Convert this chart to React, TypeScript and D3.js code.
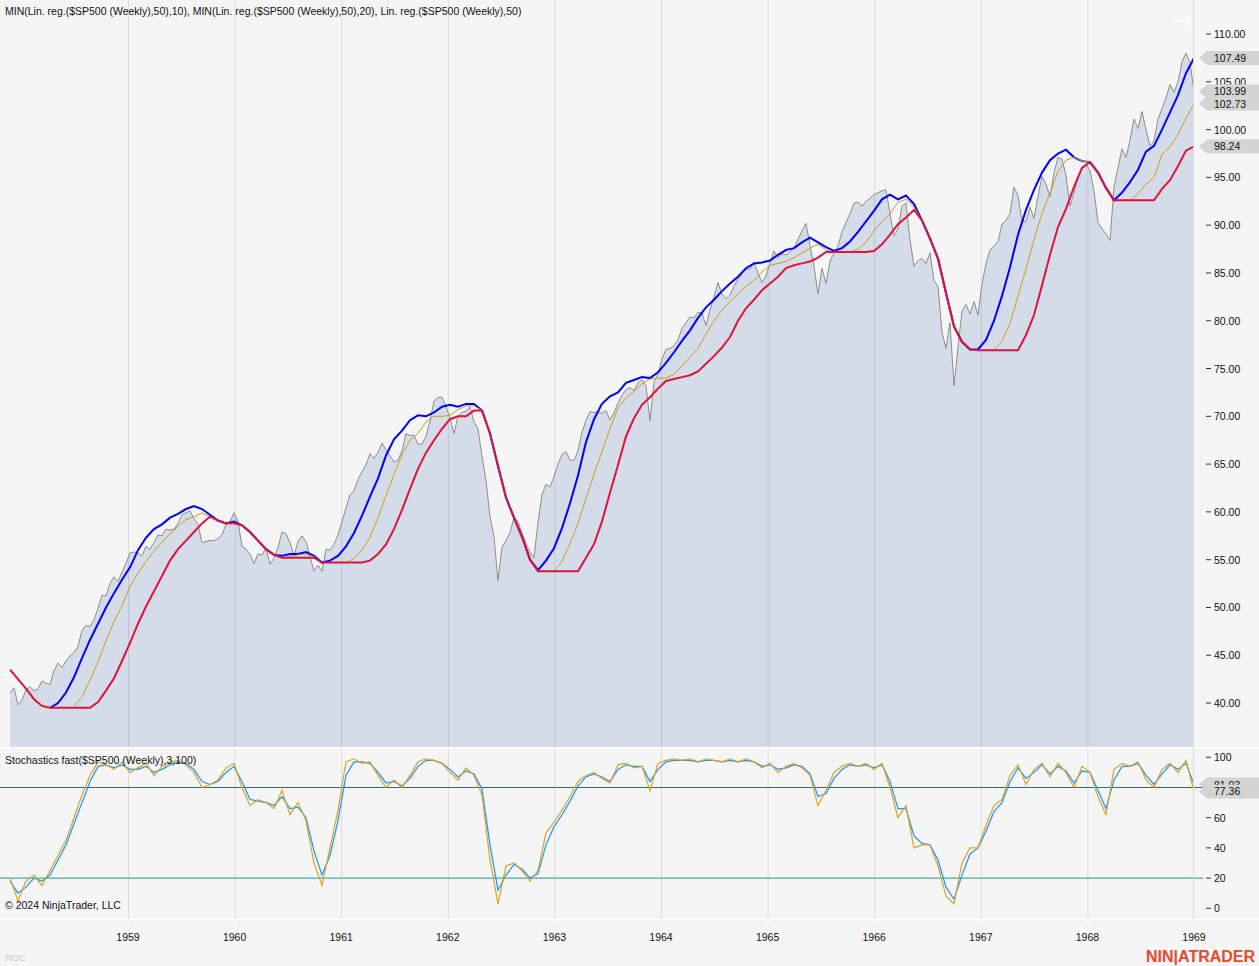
import React from 'react';
import * as d3 from 'd3';

// ---------- data ----------
// Weekly $SP500 samples, evenly spaced from late Nov 1957 to the end of 1968.
const SERIES_START = 1957.893;
const SERIES_END = 1969.0;

const years = [1959, 1960, 1961, 1962, 1963, 1964, 1965, 1966, 1967, 1968, 1969];
const priceTicks = [40, 45, 50, 55, 60, 65, 70, 75, 80, 85, 90, 95, 100, 105, 110];
const stochTicks = [0, 20, 40, 60, 80, 100];
const stochLevels = [80, 20];

const price = [
  41.0,41.6,39.8,40.3,41.4,41.7,41.3,41.5,42.3,42.1,41.9,43.4,44.2,43.7,44.4,44.9,45.3,45.9,47.6,48.1,48.0,48.7,49.9,51.3,51.2,
  52.5,53.2,52.7,53.7,54.6,55.7,55.8,55.7,55.4,56.4,56.1,56.8,57.6,57.5,58.2,58.1,58.2,58.8,59.7,59.9,60.1,59.3,58.7,56.8,56.9,
  57.0,57.0,57.2,57.6,58.7,59.0,59.9,59.0,56.4,56.1,55.6,54.6,55.6,55.5,56.2,54.5,55.2,56.3,57.9,57.7,56.8,55.4,56.9,57.5,56.9,
  55.3,53.8,54.4,53.8,56.1,56.0,56.6,57.6,59.0,60.4,61.8,62.2,63.4,64.2,64.9,66.1,65.6,66.2,67.2,66.5,65.9,65.2,65.4,66.4,68.2,
  68.0,68.0,67.1,67.1,67.9,69.5,71.6,72.0,72.0,71.0,69.9,68.2,70.0,70.4,70.5,71.0,69.4,68.7,65.8,63.3,59.5,57.4,52.8,56.3,57.0,
  57.8,59.4,59.0,57.8,56.7,55.8,55.2,58.9,61.8,62.9,62.6,63.7,65.0,66.0,66.3,65.4,65.4,66.4,68.3,69.6,70.5,70.4,70.5,70.3,70.6,
  69.6,70.4,71.4,72.2,72.8,73.0,72.7,73.5,73.8,73.2,69.5,73.6,74.4,76.0,77.0,77.1,77.4,78.0,79.2,79.8,80.4,80.3,80.9,80.8,79.5,
  81.1,82.5,84.0,82.8,82.3,82.7,83.6,84.4,84.9,85.4,85.4,86.1,85.0,84.0,84.7,86.0,87.3,86.6,87.0,86.9,87.2,87.6,88.5,89.4,90.2,
  87.9,85.7,82.8,85.5,83.9,86.2,87.1,87.8,89.3,90.3,91.2,92.3,92.4,92.0,92.5,92.8,93.2,93.4,93.6,93.7,91.2,88.9,89.6,92.0,92.3,
  88.5,85.7,86.3,86.5,86.0,87.1,84.2,83.6,78.8,77.1,79.8,73.2,77.2,81.0,81.7,80.7,82.0,80.6,83.8,86.0,87.4,87.8,88.3,90.1,90.5,
  91.2,94.0,93.1,90.4,90.4,91.9,90.7,93.0,95.1,94.3,93.0,95.5,97.1,96.9,95.2,92.0,93.4,95.0,95.9,96.4,95.7,93.6,90.3,89.6,89.1,
  88.4,94.0,96.0,98.0,97.1,98.9,101.1,100.1,101.9,100.0,98.3,98.8,101.1,102.2,103.3,104.7,103.9,105.0,107.1,108.0,107.0,103.99,
];

// MIN(Lin. reg.(50),10) – blue
const minLinReg10: (number | null)[] = [
  null,null,null,null,null,39.5,40.0,41.1,42.7,44.7,46.6,48.3,50.0,51.5,52.9,54.2,56.0,57.3,58.2,58.7,59.4,59.8,60.3,60.6,60.3,
  59.7,59.1,58.8,59.0,58.6,57.9,57.0,56.1,55.5,55.4,55.6,55.6,55.8,55.4,54.7,54.9,55.4,56.4,57.8,59.6,61.6,63.5,65.9,67.6,68.5,
  69.6,70.1,70.0,70.4,71.0,71.2,71.0,71.3,71.3,70.6,68.2,64.8,61.5,59.4,57.4,55.0,53.9,54.9,56.2,58.3,60.9,63.8,67.3,69.7,71.3,
  72.1,72.5,73.5,73.8,74.1,74.0,74.6,75.6,76.7,77.9,79.0,80.3,81.4,82.2,83.1,83.9,84.6,85.5,86.0,86.1,86.3,86.9,87.4,87.6,88.2,
  88.7,88.2,87.7,87.3,87.6,88.3,89.3,90.4,91.5,92.7,93.2,92.7,93.1,92.2,90.5,88.6,86.5,82.9,79.4,77.8,77.0,77.0,78.0,80.0,82.6,
  85.6,89.0,91.6,93.7,95.5,96.8,97.5,97.9,97.1,96.7,96.6,95.5,93.9,92.6,93.4,94.5,95.8,97.7,98.3,100.0,101.8,103.6,105.9,107.49,
];

// MIN(Lin. reg.(50),20) – gold
const minLinReg20: (number | null)[] = [
  null,null,null,null,null,null,null,null,39.7,40.6,42.4,44.3,46.5,48.5,50.2,52.2,53.6,54.8,55.9,56.8,57.7,58.5,59.2,59.5,59.9,
  59.5,59.1,58.8,58.8,58.6,57.9,57.0,56.1,55.5,55.2,55.3,55.5,55.6,55.3,54.7,54.7,54.7,54.7,55.1,56.0,57.3,59.4,61.7,63.9,66.0,
  67.5,68.2,69.4,70.0,70.0,70.1,70.7,71.1,71.1,70.6,68.2,64.8,61.5,59.4,57.4,55.0,53.8,53.8,53.8,54.8,56.7,58.8,61.4,63.9,66.3,
  68.7,70.9,71.9,72.6,73.4,73.9,74.0,74.0,74.4,75.3,76.2,77.1,78.6,80.0,81.1,82.0,82.8,83.6,84.2,85.1,85.8,86.0,86.2,86.6,87.1,
  87.6,88.0,87.4,87.2,87.2,87.2,87.5,88.2,89.4,90.4,91.2,92.4,92.7,91.9,90.5,88.6,86.5,82.9,79.4,77.8,77.0,76.9,76.9,76.9,77.9,
  79.7,82.6,85.4,88.5,91.2,93.4,95.6,96.8,97.1,96.7,96.6,95.5,93.9,92.6,92.6,92.6,93.3,94.3,95.0,97.4,98.2,99.5,101.2,102.73,
];

// Lin. reg.(50) – red
const linReg50 = [
  43.5,42.5,41.5,40.4,39.7,39.5,39.5,39.5,39.5,39.5,39.5,40.1,41.3,42.6,44.4,46.3,48.3,50.1,51.7,53.3,54.9,56.1,57.0,57.9,58.8,
  59.5,59.1,58.8,58.8,58.6,57.9,57.0,56.1,55.5,55.2,55.2,55.2,55.2,55.2,54.7,54.7,54.7,54.7,54.7,54.7,54.9,55.6,56.6,58.2,60.2,
  62.4,64.5,66.2,67.5,68.7,69.7,70.0,70.0,70.6,70.6,68.2,64.8,61.5,59.4,57.4,55.0,53.8,53.8,53.8,53.8,53.8,53.8,55.2,56.6,59.0,
  62.0,64.9,67.9,69.8,71.2,72.0,72.9,73.7,73.9,74.1,74.3,74.7,75.5,76.3,77.2,78.3,80.0,81.3,82.2,83.2,83.9,84.6,85.5,85.8,86.0,
  86.2,86.6,87.2,87.2,87.2,87.2,87.2,87.2,87.3,88.0,89.0,90.1,90.8,91.6,90.5,88.6,86.5,82.9,79.4,77.8,77.0,76.9,76.9,76.9,76.9,
  76.9,76.9,78.5,80.6,83.7,86.9,89.8,91.7,94.0,96.0,96.6,95.5,93.9,92.6,92.6,92.6,92.6,92.6,92.6,93.8,94.7,96.2,97.8,98.24,
];

// Stochastics fast(3,100): K (goldenrod) and D (dodger blue)
const stochK = [
  20,5,18,22,15,25,35,45,60,75,88,97,95,92,97,90,93,96,88,94,97,98,95,90,80,
  82,85,93,96,80,68,72,70,66,78,62,70,58,30,15,40,65,97,99,96,97,88,80,85,80,
  88,97,99,98,96,90,85,93,88,75,32,3,28,30,25,18,25,50,57,65,74,84,88,90,86,
  83,95,96,93,94,78,96,98,99,98,99,97,99,98,97,99,97,99,97,93,96,90,94,96,93,
  88,68,78,90,94,96,94,96,92,96,80,60,68,40,42,42,28,8,3,30,40,40,55,68,72,
  88,95,82,92,96,87,96,90,80,94,90,74,62,92,96,94,97,85,80,92,96,90,98,77.36,
];
const stochD = [
  18,10,14,20,18,22,32,42,56,70,84,94,95,93,95,92,92,94,90,92,95,97,96,92,84,
  82,84,90,94,84,72,71,70,68,74,66,67,60,38,22,35,58,88,97,97,96,90,83,84,81,
  86,94,98,98,96,92,87,91,89,79,42,12,22,29,26,20,23,42,54,62,71,81,87,89,87,
  84,92,95,94,94,84,92,97,98,98,98,97,98,98,97,98,97,98,97,94,95,92,93,95,94,
  89,74,76,86,92,95,94,95,93,95,84,66,66,48,43,42,32,14,6,22,36,40,51,64,70,
  84,93,86,90,95,89,94,91,83,91,90,78,66,85,94,94,96,88,82,89,95,92,96,81.93,
];

// ---------- layout ----------
const W = 1259;
const H = 966;
const PLOT_RIGHT = 1193.5;
const MAIN_BOTTOM = 747;
const STOCH_TOP = 749;
const STOCH_BOTTOM = 918;
const FONT = '"Liberation Sans", Arial, sans-serif';
const BG = '#f5f5f5';
const FS = 10.5;

const x = d3.scaleLinear().domain([1959, 1969]).range([128, 1194]);
const yMain = d3.scaleLinear().domain([35.4, 113.56]).range([MAIN_BOTTOM, 0]);
const yStoch = d3.scaleLinear().domain([0, 100]).range([908.3, 757.3]);

const timeOf = (i: number, n: number) => SERIES_START + (i * (SERIES_END - SERIES_START)) / (n - 1);

function mainLine(data: (number | null)[]) {
  const n = data.length;
  return d3
    .line<number | null>()
    .defined((d) => d != null)
    .x((_, i) => x(timeOf(i, n)))
    .y((d) => yMain(d as number))(data) as string;
}
function stochLine(data: number[]) {
  const n = data.length;
  return d3
    .line<number>()
    .x((_, i) => x(timeOf(i, n)))
    .y((d) => yStoch(d))(data) as string;
}

function Flag({ cy, label }: { cy: number; label: string }) {
  const h = 7;
  return (
    <g>
      <path
        d={`M1199,${cy} L1207,${cy - h} L${W},${cy - h} L${W},${cy + h} L1207,${cy + h} Z`}
        fill="#d4d4d4"
      />
      <text x={1214} y={cy + 4} fontSize={FS} fill="#111" fontFamily={FONT}>
        {label}
      </text>
    </g>
  );
}

export default function App() {
  const n = price.length;
  const areaPath = d3
    .area<number>()
    .x((_, i) => x(timeOf(i, n)))
    .y0(MAIN_BOTTOM)
    .y1((d) => yMain(d))(price) as string;
  const pricePath = mainLine(price);

  const last = (a: (number | null)[]) => a[a.length - 1] as number;

  return (
    <svg
      width={W}
      height={H}
      style={{ position: 'absolute', left: 0, top: 0, display: 'block', background: BG }}
      fontFamily={FONT}
    >
      <defs>
        <clipPath id="mainClip">
          <rect x={0} y={0} width={PLOT_RIGHT} height={MAIN_BOTTOM} />
        </clipPath>
        <clipPath id="stochClip">
          <rect x={0} y={STOCH_TOP} width={PLOT_RIGHT} height={STOCH_BOTTOM - STOCH_TOP} />
        </clipPath>
      </defs>
      <rect x={0} y={0} width={W} height={H} fill={BG} />

      {/* main panel */}
      <g clipPath="url(#mainClip)">
        <path d={areaPath} fill="#d3dce8" />
        {years.map((yr) => (
          <line key={yr} x1={x(yr) + 0.5} x2={x(yr) + 0.5} y1={0} y2={MAIN_BOTTOM} stroke="rgba(0,0,0,0.1)" />
        ))}
        <path d={pricePath} fill="none" stroke="#8c8c8c" strokeWidth={1} />
        <path d={mainLine(minLinReg10)} fill="none" stroke="#0000ff" strokeWidth={2} />
        <path d={mainLine(minLinReg20)} fill="none" stroke="#d09a22" strokeWidth={1} />
        <path d={mainLine(linReg50)} fill="none" stroke="#dc143c" strokeWidth={2} />
      </g>

      {/* stochastics panel */}
      <g clipPath="url(#stochClip)">
        {years.map((yr) => (
          <line key={yr} x1={x(yr) + 0.5} x2={x(yr) + 0.5} y1={STOCH_TOP} y2={STOCH_BOTTOM} stroke="rgba(0,0,0,0.1)" />
        ))}
      </g>
      {stochLevels.map((lv, i) => (
        <line
          key={lv}
          x1={0}
          x2={1203}
          y1={yStoch(lv)}
          y2={yStoch(lv)}
          stroke={i === 0 ? '#2f6e68' : '#119d98'}
          strokeWidth={1}
        />
      ))}
      <g clipPath="url(#stochClip)">
        <path d={stochLine(stochD)} fill="none" stroke="#1e90ff" strokeWidth={1.2} />
        <path d={stochLine(stochK)} fill="none" stroke="#daa520" strokeWidth={1.2} />
      </g>

      {/* separators */}
      <line x1={PLOT_RIGHT} x2={PLOT_RIGHT} y1={0} y2={STOCH_BOTTOM} stroke="#dadada" />
      <line x1={0} x2={W} y1={748} y2={748} stroke="#ffffff" strokeWidth={1.5} />
      <line x1={0} x2={W} y1={919.5} y2={919.5} stroke="#ffffff" strokeWidth={1} />

      {/* right price axis */}
      {priceTicks.map((t) => (
        <g key={t}>
          <line x1={1206} x2={1211} y1={yMain(t)} y2={yMain(t)} stroke="#333" />
          <text x={1214} y={yMain(t) + 4} fontSize={FS} fill="#111">
            {t.toFixed(2)}
          </text>
        </g>
      ))}
      {stochTicks.map((t) => (
        <g key={t}>
          <line x1={1206} x2={1211} y1={yStoch(t)} y2={yStoch(t)} stroke="#333" />
          <text x={1214} y={yStoch(t) + 4} fontSize={FS} fill="#111">
            {t}
          </text>
        </g>
      ))}

      {/* value flags */}
      <Flag cy={yMain(last(minLinReg10))} label={last(minLinReg10).toFixed(2)} />
      <Flag cy={yMain(last(price))} label={last(price).toFixed(2)} />
      <Flag cy={yMain(last(minLinReg20))} label={last(minLinReg20).toFixed(2)} />
      <Flag cy={yMain(last(linReg50))} label={last(linReg50).toFixed(2)} />
      <Flag cy={yStoch(last(stochD))} label={last(stochD).toFixed(2)} />
      <Flag cy={yStoch(last(stochK))} label={last(stochK).toFixed(2)} />

      {/* x axis */}
      {years.map((yr) => (
        <g key={yr}>
          <line x1={x(yr) + 0.5} x2={x(yr) + 0.5} y1={919} y2={924} stroke="#ffffff" />
          <text x={x(yr)} y={941} fontSize={FS} textAnchor="middle" fill="#111">
            {yr}
          </text>
        </g>
      ))}

      {/* texts */}
      <text x={5} y={15} fontSize={FS} fill="#111">
        MIN(Lin. reg.($SP500 (Weekly),50),10), MIN(Lin. reg.($SP500 (Weekly),50),20), Lin. reg.($SP500 (Weekly),50)
      </text>
      <text x={5} y={764} fontSize={FS} fill="#111">
        Stochastics fast($SP500 (Weekly),3,100)
      </text>
      <text x={5} y={909} fontSize={FS} fill="#111">
        © 2024 NinjaTrader, LLC
      </text>
      <text x={5} y={961} fontSize={9.5} fill="#c8c8c8">
        ROC
      </text>
      <text x={1146} y={962} fontSize={16} fontWeight="bold" fill="#e8482b">
        NIN|ATRADER
      </text>

      {/* expand arrow */}
      <g stroke="#ffffff" strokeWidth={1.6} fill="none">
        <line x1={1175} x2={1190} y1={21} y2={21} />
        <polyline points="1184,15 1190,21 1184,27" />
      </g>
    </svg>
  );
}
